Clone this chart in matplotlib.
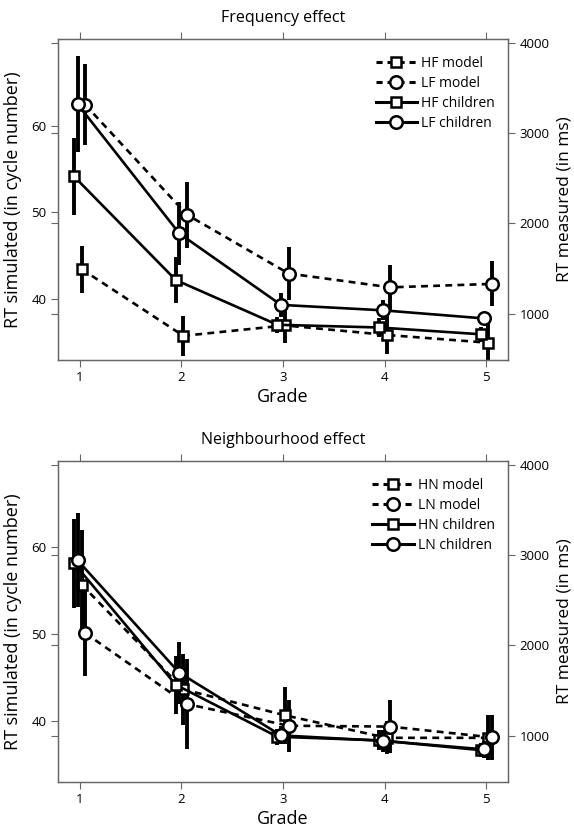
import matplotlib.pyplot as plt
from matplotlib.lines import Line2D

plt.rcParams['font.family'] = ['Open Sans', 'DejaVu Sans']

grades = [1, 2, 3, 4, 5]

# Frequency effect: model in cycles (left axis), children in ms (right axis)
hf_model = [43.4, 35.7, 36.9, 35.8, 34.9]
hf_model_err = [2.7, 2.3, 2.0, 2.2, 2.2]
lf_model = [62.4, 49.7, 42.9, 41.3, 41.7]
lf_model_err = [4.7, 3.8, 3.1, 2.6, 2.6]
hf_children = [2520, 1375, 880, 850, 775]
hf_children_err = [425, 250, 90, 100, 80]
lf_children = [3320, 1890, 1100, 1040, 950]
lf_children_err = [530, 350, 130, 110, 60]

# Neighbourhood effect
hn_model = [55.7, 43.6, 40.6, 38.0, 38.0]
hn_model_err = [6.3, 4.1, 3.3, 1.9, 2.6]
ln_model = [50.1, 41.9, 39.4, 39.3, 38.05]
ln_model_err = [5.0, 5.2, 3.0, 3.1, 2.6]
hn_children = [2908, 1565, 990, 950, 842]
hn_children_err = [490, 320, 90, 110, 80]
ln_children = [2941, 1697, 1005, 945, 850]
ln_children_err = [520, 340, 100, 120, 90]

left_ticks = [40, 50, 60]
right_ticks = [1000, 2000, 3000, 4000]

LW = 1.9
ELW = 2.8
MEW = 1.8
DASH = (2.6, 2.0)
SPINE = '0.4'


def series(ax, x0, y, err, off, marker, dashed):
    x = [g + off for g in x0]
    ms = 9 if marker == 'o' else 7.5
    ax.errorbar(x, y, yerr=err, fmt='none', ecolor='k', elinewidth=ELW, capsize=0, zorder=2)
    line, = ax.plot(x, y, color='k', lw=LW, marker=marker, ms=ms, mfc='white',
                    mec='k', mew=MEW, zorder=3)
    if dashed:
        line.set_dashes(DASH)


def panel(rect, title, names, hm, hme, lm, lme, hc, hce, lc, lce):
    ax = fig.add_axes(rect)
    ax2 = ax.twinx()
    series(ax, grades, hm, hme, 0.02, 's', True)
    series(ax, grades, lm, lme, 0.055, 'o', True)
    series(ax2, grades, hc, hce, -0.055, 's', False)
    series(ax2, grades, lc, lce, -0.02, 'o', False)

    ax.set_xlim(0.79, 5.21)
    ax.set_ylim(32.9, 70)
    ax2.set_ylim(490, 4040)
    ax.set_xticks(grades)
    ax.set_yticks(left_ticks)
    ax2.set_yticks(right_ticks)

    for a in (ax, ax2):
        for s in a.spines.values():
            s.set_color(SPINE)
            s.set_linewidth(0.9)
    ax.tick_params(axis='x', top=True, bottom=True, direction='out', length=5,
                   color=SPINE, labelsize=9.5, pad=3)
    ax.tick_params(axis='y', left=True, right=False, direction='out', length=5,
                   color=SPINE, labelsize=9.5)
    ax2.tick_params(axis='y', left=True, right=True, labelleft=False, labelright=True,
                    direction='out', length=5, color=SPINE, labelsize=9.5)

    ax.set_xlabel('Grade', fontsize=13, labelpad=3)
    ax.set_ylabel('RT simulated (in cycle number)', fontsize=13, labelpad=7)
    ax2.set_ylabel('RT measured (in ms)', fontsize=12.5, labelpad=5)
    ax.set_title(title, fontsize=11.5, pad=12)

    handles = []
    for marker, dashed in (('s', True), ('o', True), ('s', False), ('o', False)):
        ms = 9 if marker == 'o' else 7.5
        hl = Line2D([], [], color='k', lw=2.2, marker=marker, ms=ms, mfc='white',
                    mec='k', mew=MEW)
        if dashed:
            hl.set_dashes((2.0, 1.6))
        handles.append(hl)
    ax2.legend(handles, names, loc='upper right', bbox_to_anchor=(1.0, 0.985),
               frameon=False, fontsize=10, handlelength=3.0, handletextpad=0.3,
               labelspacing=0.35, numpoints=1)


fig = plt.figure(figsize=(5.74, 8.34), dpi=100)

panel([0.1016, 0.5683, 0.7829, 0.3849], 'Frequency effect',
      ['HF model', 'LF model', 'HF children', 'LF children'],
      hf_model, hf_model_err, lf_model, lf_model_err,
      hf_children, hf_children_err, lf_children, lf_children_err)

panel([0.1016, 0.0624, 0.7829, 0.3849], 'Neighbourhood effect',
      ['HN model', 'LN model', 'HN children', 'LN children'],
      hn_model, hn_model_err, ln_model, ln_model_err,
      hn_children, hn_children_err, ln_children, ln_children_err)

fig.savefig('out.png', dpi=100)
